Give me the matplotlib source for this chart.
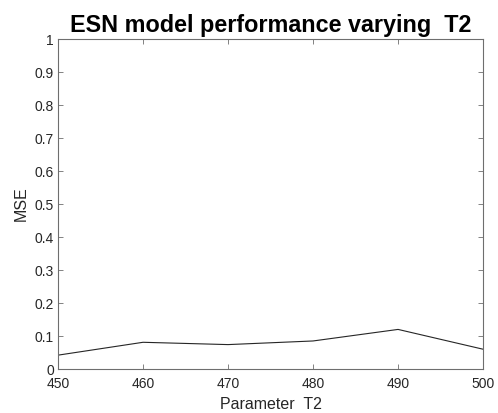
import matplotlib.pyplot as plt

# datos
t2 = [450, 460, 470, 480, 490, 500]
mse = [0.042, 0.081, 0.074, 0.085, 0.120, 0.060]

plt.rcParams['font.family'] = ['Liberation Sans', 'DejaVu Sans']

fig = plt.figure(figsize=(4.98, 4.13), dpi=100)
ax = fig.add_axes([0.1165, 0.1065, 0.8535, 0.799])

ax.plot(t2, mse, color='#262626', linewidth=0.8)

ax.set_xlim(450, 500)
ax.set_ylim(0, 1)
ax.set_xticks(t2)
ax.set_yticks([i / 10 for i in range(11)])
ax.set_yticklabels(['0', '0.1', '0.2', '0.3', '0.4', '0.5', '0.6', '0.7', '0.8', '0.9', '1'])

gray = '#262626'
for s in ax.spines.values():
    s.set_color('#6e6e6e')
    s.set_linewidth(0.8)
ax.tick_params(direction='in', top=True, right=True, length=3.5, width=0.6,
               color='#6e6e6e', labelsize=10, labelcolor=gray, pad=3)
ax.tick_params(axis='x', pad=6)

ax.set_xlabel('Parameter  T2', fontsize=11.5, color=gray, labelpad=4)
ax.set_ylabel('MSE', fontsize=11.5, color=gray, labelpad=4)
ax.set_title('ESN model performance varying  T2', fontsize=16.8,
             fontweight='bold', pad=5)

fig.savefig('out.png', dpi=100)
